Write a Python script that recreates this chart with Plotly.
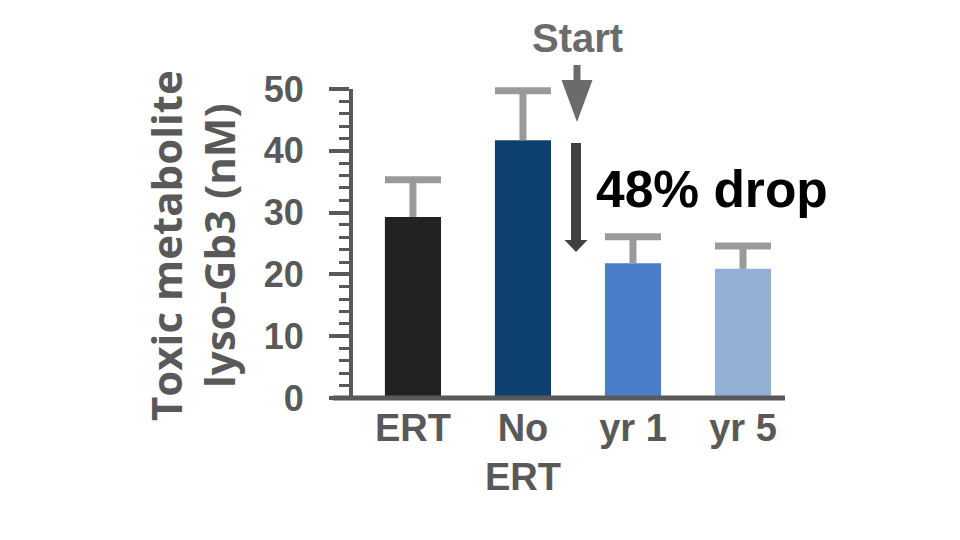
import plotly.graph_objects as go

categories = ["ERT", "No<br>ERT", "yr 1", "yr 5"]
values = [29.3, 41.7, 21.8, 20.9]
errors = [6.0, 8.0, 4.3, 3.7]
bar_colors = ["#222222", "#0d3f6f", "#4a7cc9", "#94afd6"]
y_ticks = [0, 10, 20, 30, 40, 50]
y_title_lines = ["Toxic metabolite", "lyso-Gb3 (nM)"]
start_label = "Start"
drop_label = "48% drop"

W, H = 960, 540
OFF = 8  # page body margin
# plot area in screen pixels
PL, PR, PT, PB = 353, 785, 89, 398
L, T = PL - OFF, PT - OFF
R, B = W - (PR - OFF), H - (PB - OFF)
pw, ph = PR - PL, PB - PT

def px(x):
    return (x - PL) / pw

def py(y):
    return (PB - y) / ph

AX = "#595959"
ERR = "#9a9a9a"

fig = go.Figure()
fig.add_trace(go.Bar(
    x=categories, y=values, width=0.51,
    marker=dict(color=bar_colors, line=dict(width=0)),
    error_y=dict(type="data", array=errors, arrayminus=[0]*len(errors), symmetric=False,
                 color=ERR, thickness=7, width=0),
))
cap_y = [v + e for v, e in zip(values, errors)]
fig.add_trace(go.Scatter(
    x=categories, y=cap_y, mode="markers", hoverinfo="skip",
    marker=dict(symbol="line-ew", size=40, color=ERR, line=dict(color=ERR, width=7)),
    cliponaxis=False,
))

shapes = []
shapes.append(dict(type="line", xref="paper", yref="paper", x0=px(333), x1=px(785), y0=0, y1=0,
                   line=dict(color=AX, width=5), layer="above"))
# Start arrow
shapes.append(dict(type="rect", xref="paper", yref="paper", x0=px(573.5), x1=px(580.5),
                   y0=py(82), y1=py(65), fillcolor="#6b6b6b", line=dict(width=0)))
shapes.append(dict(type="path", xref="paper", yref="paper",
                   path=f"M {px(561.5)} {py(80)} L {px(592.5)} {py(80)} L {px(577)} {py(122)} Z",
                   fillcolor="#6b6b6b", line=dict(width=0)))
# drop arrow
shapes.append(dict(type="rect", xref="paper", yref="paper", x0=px(571), x1=px(581),
                   y0=py(242), y1=py(143), fillcolor="#404040", line=dict(width=0)))
shapes.append(dict(type="path", xref="paper", yref="paper",
                   path=f"M {px(564.5)} {py(240)} L {px(587.5)} {py(240)} L {px(576)} {py(252)} Z",
                   fillcolor="#404040", line=dict(width=0)))

annotations = [
    dict(text=start_label, xref="paper", yref="paper", x=px(577), y=py(38), xanchor="center", yanchor="middle",
         showarrow=False, font=dict(family="Liberation Sans", size=40, color="#6b6b6b", weight="bold")),
    dict(text=drop_label, xref="paper", yref="paper", x=px(594), y=py(189), xanchor="left", yanchor="middle",
         showarrow=False, font=dict(family="Liberation Sans", size=51.5, color="#000000", weight="bold")),
]
for xc, line in zip([165, 218], y_title_lines):
    annotations.append(dict(text=line, xref="paper", yref="paper", x=px(xc), y=py(246),
                            xanchor="center", yanchor="middle", textangle=-90, showarrow=False,
                            font=dict(family="Open Sans", size=42, color=AX, weight="bold")))

fig.update_layout(
    width=W, height=H, margin=dict(l=L, r=R, t=T, b=B, autoexpand=False),
    paper_bgcolor="white", plot_bgcolor="white", showlegend=False,
    shapes=shapes, annotations=annotations,
    xaxis=dict(range=[-0.545, 3.382], showline=False, ticks="", showgrid=False, zeroline=False,
               ticklabelstandoff=4,
               tickfont=dict(family="Liberation Sans", size=38, color=AX, weight="bold")),
    yaxis=dict(range=[0, 50], tickvals=y_ticks, showline=True, linecolor=AX, linewidth=4,
               ticks="outside", ticklen=20, tickwidth=4, tickcolor=AX, showgrid=False, zeroline=False,
               ticklabelstandoff=18,
               minor=dict(dtick=2, ticks="outside", ticklen=10, tickwidth=3, tickcolor=AX),
               tickfont=dict(family="Liberation Sans", size=36, color=AX, weight="bold")),
)
fig.write_html("out.html")
